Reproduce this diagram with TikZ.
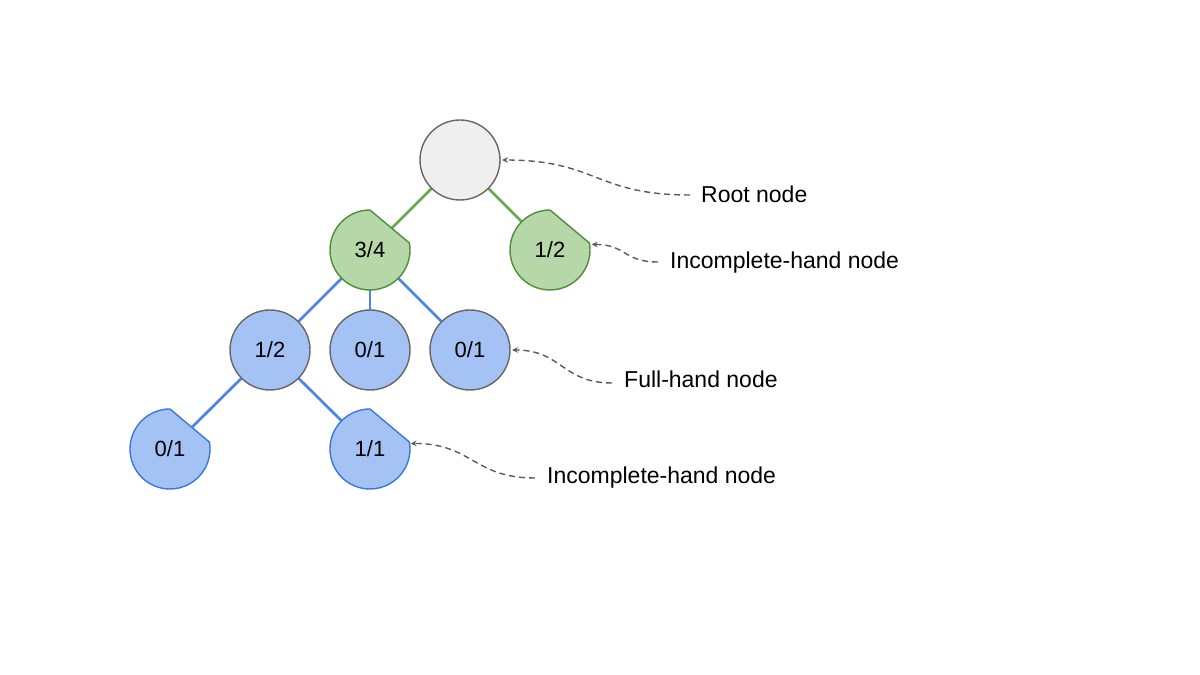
\documentclass[tikz,border=0pt]{standalone}
\usepackage{fontspec}
\setmainfont{Liberation Sans}
\usetikzlibrary{arrows.meta,backgrounds}
\definecolor{rootfill}{HTML}{EFEFEF}
\definecolor{nodegray}{HTML}{666666}
\definecolor{greenfill}{HTML}{B6D7A8}
\definecolor{greenline}{HTML}{4E8F35}
\definecolor{greenedge}{HTML}{6AA84F}
\definecolor{bluefill}{HTML}{A4C2F4}
\definecolor{blueline}{HTML}{3C78D8}
\definecolor{blueedge}{HTML}{4A86E8}
\definecolor{calloutgray}{HTML}{595959}
\newcommand\incshape[3]{\path[fill=#2, draw=#3, line width=1.4pt] (#1.north) arc[start angle=90, end angle=370, radius=40pt] -- cycle;}
\begin{document}
\begin{tikzpicture}[x=1pt,y=1pt,
  basenode/.style={circle, minimum size=80pt, inner sep=0pt, outer sep=0pt, font=\fontsize{22}{24}\selectfont},
  rootnode/.style={basenode, draw=nodegray, line width=1.4pt, fill=rootfill},
  bluefull/.style={basenode, draw=nodegray, line width=1.4pt, fill=bluefill},
  incnode/.style={basenode},
  edgegreen/.style={draw=greenedge, line width=2.7pt},
  edgeblue/.style={draw=blueedge, line width=2.7pt},
  callout/.style={draw=calloutgray, line width=1.4pt, dash pattern=on 6pt off 4pt, -{Stealth[length=6pt,width=5.5pt]}},
  lab/.style={anchor=base west, inner sep=0pt, font=\fontsize{23}{26}\selectfont}
]
\useasboundingbox (0,0) rectangle (1200,675);

% nodes
\node[rootnode] (root) at (460,515) {};
\node[incnode] (A) at (370,425) {3/4};
\node[incnode] (B) at (550,425) {1/2};
\node[bluefull] (C) at (270,325) {1/2};
\node[bluefull] (D) at (370,325) {0/1};
\node[bluefull] (E) at (470,325) {0/1};
\node[incnode] (F) at (170,226) {0/1};
\node[incnode] (G) at (370,226) {1/1};

% edges and incomplete shapes behind the texts
\begin{scope}[on background layer]
  \draw[edgegreen] (root.center) -- (A.center);
  \draw[edgegreen] (root.center) -- (B.center);
  \draw[edgeblue] (A.center) -- (C.center);
  \draw[edgeblue] (A.center) -- (D.center);
  \draw[edgeblue] (A.center) -- (E.center);
  \draw[edgeblue] (C.center) -- (F.center);
  \draw[edgeblue] (C.center) -- (G.center);
  \incshape{A}{greenfill}{greenline}
  \incshape{B}{greenfill}{greenline}
  \incshape{F}{bluefill}{blueline}
  \incshape{G}{bluefill}{blueline}
\end{scope}

% labels
\node[lab] (lroot) at (701,472) {Root node};
\node[lab] (linc1) at (670,406) {Incomplete-hand node};
\node[lab] (lfull) at (624,287) {Full-hand node};
\node[lab] (linc2) at (547,191) {Incomplete-hand node};

\coordinate (croot) at (690,480);
\coordinate (cinc1) at (658,413);
\coordinate (cfull) at (612,292);
\coordinate (cinc2) at (535,197);

\draw[callout] (croot) .. controls +(-95,0) and +(95,0) .. ([xshift=2pt]root.east);
\draw[callout] (cinc1) .. controls +(-35,0) and +(35,0) .. ([xshift=2pt]B.8);
\draw[callout] (cfull) .. controls +(-50,0) and +(50,0) .. ([xshift=2pt]E.east);
\draw[callout] (cinc2) .. controls +(-62,0) and +(62,0) .. ([xshift=1pt]G.8);
\end{tikzpicture}
\end{document}
